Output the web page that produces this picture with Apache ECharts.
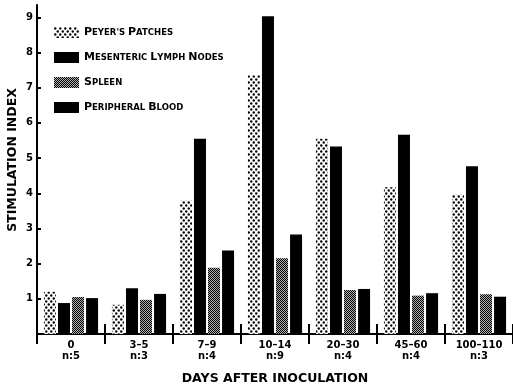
<!DOCTYPE html>
<html><head><meta charset="utf-8">
<script src="https://cdn.jsdelivr.net/npm/echarts@6/dist/echarts.min.js"></script>
<style>html,body{margin:0;padding:0;background:#fff}#c{width:513px;height:390px}</style>
</head><body><div id="c"></div>
<script>
const categories = ['0','3–5','7–9','10–14','20–30','45–60','100–110'];
const nLabels = ['n:5','n:3','n:4','n:9','n:4','n:4','n:3'];
const seriesNames = ["Peyer's Patches", 'Mesenteric Lymph Nodes', 'Spleen', 'Peripheral Blood'];
const peyers = [1.2, 0.83, 3.79, 7.35, 5.55, 4.17, 3.96];
const mesenteric = [0.88, 1.3, 5.55, 9.03, 5.33, 5.66, 4.77];
const spleen = [1.05, 0.97, 1.88, 2.15, 1.25, 1.09, 1.13];
const blood = [1.02, 1.14, 2.37, 2.83, 1.28, 1.16, 1.06];
const yTicks = [1,2,3,4,5,6,7,8,9];

const FONT = 'DejaVu Sans';
function pattern(w, h, draw) {
  const c = document.createElement('canvas');
  c.width = w; c.height = h;
  const ctx = c.getContext('2d');
  draw(ctx);
  return { image: c, repeat: 'repeat' };
}
const dotPattern = pattern(5, 6, ctx => {
  ctx.fillStyle = '#fff'; ctx.fillRect(0,0,5,6);
  ctx.fillStyle = '#000';
  ctx.beginPath(); ctx.arc(1.25, 1.5, 1.2, 0, Math.PI*2); ctx.fill();
  ctx.beginPath(); ctx.arc(3.75, 4.5, 1.2, 0, Math.PI*2); ctx.fill();
});
const finePattern = pattern(2, 2, ctx => {
  ctx.fillStyle = '#b0b0b0'; ctx.fillRect(0,0,2,2);
  ctx.fillStyle = '#000'; ctx.fillRect(0,0,1,1); ctx.fillRect(1,1,1,1);
});
const colors = [dotPattern, '#000', finePattern, '#000'];
const dataSets = [peyers, mesenteric, spleen, blood];

function smallCaps(s) {
  return s.split(' ').map(w => '{a|' + w[0].toUpperCase() + '}{b|' + w.slice(1).toUpperCase() + '}').join('{b| }');
}

const chart = echarts.init(document.getElementById('c'), null, {renderer: 'canvas'});
chart.setOption({
  animation: false,
  backgroundColor: '#fff',
  grid: { left: 37, right: 0, top: 5, bottom: 52, containLabel: false },
  legend: {
    left: 49, top: 22, orient: 'vertical', itemWidth: 25, itemHeight: 11, itemGap: 14,
    icon: 'rect', data: seriesNames,
    formatter: n => smallCaps(n),
    textStyle: {
      rich: {
        a: { fontFamily: FONT, fontWeight: 'bold', fontSize: 11, color: '#000', lineHeight: 11 },
        b: { fontFamily: FONT, fontWeight: 'bold', fontSize: 8.5, color: '#000', lineHeight: 11 }
      }
    }
  },
  xAxis: [{
    type: 'category', data: categories, position: 'bottom',
    axisLine: { lineStyle: { color: '#000', width: 2 } },
    axisTick: { show: true, length: 10, lineStyle: { color: '#000', width: 2 } },
    axisLabel: {
      margin: 6, color: '#000', fontFamily: FONT, fontWeight: 'bold', fontSize: 10, lineHeight: 11,
      formatter: (v, i) => v + '\n' + nLabels[i]
    },
    name: 'DAYS AFTER INOCULATION', nameLocation: 'middle', nameGap: 38,
    nameTextStyle: { color: '#000', fontFamily: FONT, fontWeight: 'bold', fontSize: 12.5 }
  }, {
    type: 'category', data: categories, position: 'bottom',
    axisLine: { show: false },
    axisTick: { show: true, inside: true, length: 10, lineStyle: { color: '#000', width: 2 } },
    axisLabel: { show: false }
  }],
  yAxis: {
    type: 'value', min: 0, max: 9.35, interval: 1,
    axisLine: { show: true, lineStyle: { color: '#000', width: 2 } },
    axisTick: { show: true, inside: true, length: 4, customValues: yTicks, lineStyle: { color: '#000', width: 2 } },
    axisLabel: { customValues: yTicks, margin: 4, color: '#000', fontFamily: FONT, fontWeight: 'bold', fontSize: 10 },
    splitLine: { show: false }
  },
  graphic: [{
    type: 'text', x: 13, y: 160, rotation: Math.PI / 2,
    style: { text: 'STIMULATION INDEX', fontFamily: FONT, fontWeight: 'bold', fontSize: 12.5, fill: '#000', align: 'center', verticalAlign: 'middle' }
  }],
  series: seriesNames.map((name, k) => ({
    name, type: 'bar', data: dataSets[k], barWidth: 12, barGap: '17%',
    itemStyle: { color: colors[k] }
  }))
});
</script></body></html>
